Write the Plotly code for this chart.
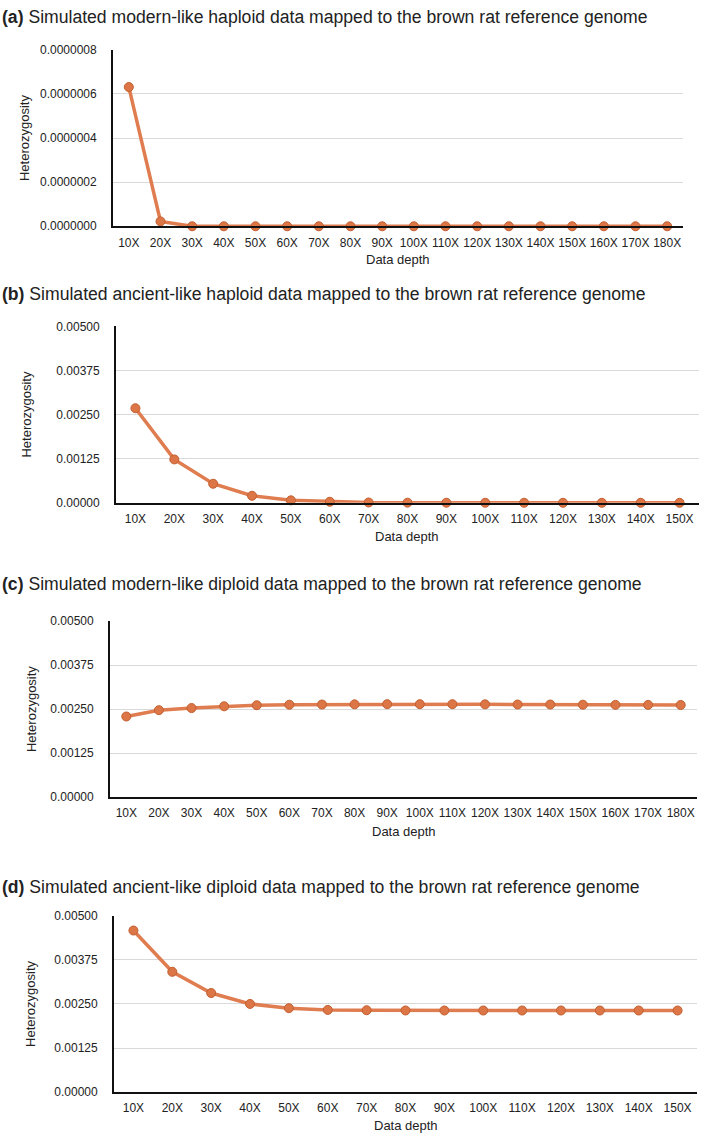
import plotly.graph_objects as go

# ---------------- data ----------------
depth_180 = ["10X", "20X", "30X", "40X", "50X", "60X", "70X", "80X", "90X", "100X",
             "110X", "120X", "130X", "140X", "150X", "160X", "170X", "180X"]
depth_150 = depth_180[:15]

het_a = [6.31e-7, 2.2e-8, 0, 0, 0, 0, 0, 0, 0, 0, 0, 0, 0, 0, 0, 0, 0, 0]
het_b = [0.00268, 0.00123, 0.00054, 0.00020, 0.00007, 0.00003, 0.00001, 0.000005,
         0.000003, 0.000002, 0.000002, 0.000001, 0.000001, 0.000001, 0.000001]
het_c = [0.00229, 0.00247, 0.00253, 0.00258, 0.00261, 0.002625, 0.00263, 0.002635,
         0.00264, 0.00264, 0.00264, 0.002635, 0.00263, 0.00263, 0.002625, 0.00262,
         0.00262, 0.002617]
het_d = [0.00458, 0.00341, 0.00281, 0.00250, 0.00238, 0.00233, 0.002322, 0.002315,
         0.002314, 0.002314, 0.002314, 0.002314, 0.002314, 0.002314, 0.002314]

titles = [
    "<b>(a)</b> Simulated modern-like haploid data mapped to the brown rat reference genome",
    "<b>(b)</b> Simulated ancient-like haploid data mapped to the brown rat reference genome",
    "<b>(c)</b> Simulated modern-like diploid data mapped to the brown rat reference genome",
    "<b>(d)</b> Simulated ancient-like diploid data mapped to the brown rat reference genome",
]
y_ticks_a = [0, 2e-7, 4e-7, 6e-7, 8e-7]
y_ticks_b = [0, 0.00125, 0.0025, 0.00375, 0.005]

# ---------------- layout geometry (pixels) ----------------
W, H = 716, 1139
panels = [
    dict(x0=113, x1=683, yt=43.3, yb=222, ty=10, yx=24, cats=depth_180, vals=het_a,
         ticks=y_ticks_a, fmt=".7f", xl=256),
    dict(x0=116, x1=699, yt=323.3, yb=502, ty=291, yx=27, cats=depth_150, vals=het_b,
         ticks=y_ticks_b, fmt=".5f", xl=536),
    dict(x0=110, x1=697, yt=621.7, yb=800, ty=584, yx=31, cats=depth_180, vals=het_c,
         ticks=y_ticks_b, fmt=".5f", xl=835),
    dict(x0=114, x1=697, yt=920, yb=1098.7, ty=891, yx=31, cats=depth_150, vals=het_d,
         ticks=y_ticks_b, fmt=".5f", xl=1132),
]

LINE = "#E07D50"
MARK = "#DD7646"
MARK_EDGE = "#C35F30"
TXT = "#222222"
FONT = "Liberation Sans, Arial, sans-serif"

fig = go.Figure()
annotations = []
for i, p in enumerate(panels, start=1):
    xa = "x" if i == 1 else f"x{i}"
    ya = "y" if i == 1 else f"y{i}"
    fig.add_trace(go.Scatter(
        x=p["cats"], y=p["vals"], xaxis=xa, yaxis=ya, mode="lines+markers",
        line=dict(color=LINE, width=3.5),
        marker=dict(size=9, color=MARK, line=dict(color=MARK_EDGE, width=1)),
        cliponaxis=False, showlegend=False, hoverinfo="x+y",
    ))
    xkey = "xaxis" if i == 1 else f"xaxis{i}"
    ykey = "yaxis" if i == 1 else f"yaxis{i}"
    fig.update_layout(**{
        xkey: dict(
            domain=[p["x0"] / W, p["x1"] / W], anchor=ya, type="category",
            range=[-0.5, len(p["cats"]) - 0.5], showgrid=False,
            showline=True, linecolor="#111111", linewidth=1.8,
            ticks="", ticklabelstandoff=4, tickangle=0,
            tickfont=dict(family=FONT, size=12, color=TXT), zeroline=False,
        ),
        ykey: dict(
            domain=[1 - p["yb"] / H, 1 - p["yt"] / H], anchor=xa,
            range=[0, p["ticks"][-1]], tickvals=p["ticks"], tickformat=p["fmt"],
            showgrid=True, gridcolor="#D9D9D9", gridwidth=1,
            showline=True, linecolor="#111111", linewidth=1.8,
            ticks="", ticklabelstandoff=12, zeroline=False,
            tickfont=dict(family=FONT, size=12, color=TXT),
        ),
    })
    annotations.append(dict(
        text=titles[i - 1], x=0.0, y=1 - p["ty"] / H, xref="paper", yref="paper",
        xanchor="left", yanchor="middle", showarrow=False,
        font=dict(family=FONT, size=17.6, color=TXT),
    ))
    annotations.append(dict(
        text="Heterozygosity", x=p["yx"] / W, y=1 - (p["yt"] + p["yb"]) / 2 / H,
        xref="paper", yref="paper", xanchor="center", yanchor="middle",
        textangle=-90, showarrow=False, font=dict(family=FONT, size=13, color=TXT),
    ))
    annotations.append(dict(
        text="Data depth", x=(p["x0"] + p["x1"]) / 2 / W, y=1 - p["xl"] / H,
        xref="paper", yref="paper", xanchor="center", yanchor="middle",
        showarrow=False, font=dict(family=FONT, size=13, color=TXT),
    ))

fig.update_layout(
    width=W, height=H, margin=dict(l=0, r=0, t=0, b=0),
    paper_bgcolor="white", plot_bgcolor="white",
    annotations=annotations, font=dict(family=FONT, color=TXT),
)

fig.write_html("out.html", config={"displayModeBar": False})
